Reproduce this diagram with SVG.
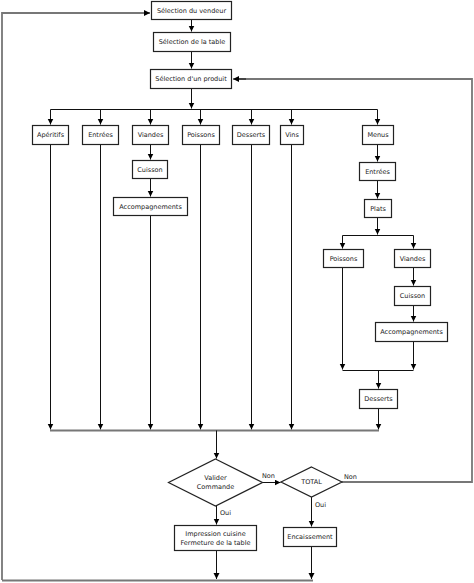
<svg xmlns="http://www.w3.org/2000/svg" width="474" height="583" viewBox="0 0 474 583">
<defs>
<marker id="ah" markerUnits="userSpaceOnUse" markerWidth="7" markerHeight="7" refX="6" refY="3" orient="auto"><path d="M0,0 L6,3 L0,6 z" fill="#000"/></marker>
<style>
.box{fill:#fff;stroke:#222;stroke-width:1.2}
.t{font-family:"DejaVu Sans",sans-serif;font-size:6.5px;fill:#222;text-anchor:middle;dominant-baseline:central}
.l{font-family:"DejaVu Sans",sans-serif;font-size:6.5px;fill:#222}
.c{fill:none;stroke:#111;stroke-width:1}
.g{fill:none;stroke:#777;stroke-width:1.8}
</style>
</defs>
<rect width="474" height="583" fill="#fff"/>
<g id="connectors">
<path class="g" d="M2,580 V13 H150" marker-end="url(#ah)"/>
<path class="c" d="M191.5,19 V31.5" marker-end="url(#ah)"/>
<path class="c" d="M191.5,52 V68.5" marker-end="url(#ah)"/>
<path class="c" d="M191.5,89 V108.5" marker-end="url(#ah)"/>
<path class="c" d="M50.5,109.5 H377.5"/>
<path class="c" d="M50.5,109.5 V124.5" marker-end="url(#ah)"/>
<path class="c" d="M100.5,109.5 V124.5" marker-end="url(#ah)"/>
<path class="c" d="M150.5,109.5 V124.5" marker-end="url(#ah)"/>
<path class="c" d="M200.5,109.5 V124.5" marker-end="url(#ah)"/>
<path class="c" d="M251.5,109.5 V124.5" marker-end="url(#ah)"/>
<path class="c" d="M291.5,109.5 V124.5" marker-end="url(#ah)"/>
<path class="c" d="M377.5,109.5 V124.5" marker-end="url(#ah)"/>
<path class="c" d="M150.5,145 V159.5" marker-end="url(#ah)"/>
<path class="c" d="M150.5,179 V196.5" marker-end="url(#ah)"/>
<path class="c" d="M377.5,145 V161.5" marker-end="url(#ah)"/>
<path class="c" d="M377.5,181 V198.5" marker-end="url(#ah)"/>
<path class="c" d="M377.5,218 V234.5" marker-end="url(#ah)"/>
<path class="c" d="M342.5,235.5 H413.5"/>
<path class="c" d="M342.5,235.5 V248.5" marker-end="url(#ah)"/>
<path class="c" d="M413.5,235.5 V248.5" marker-end="url(#ah)"/>
<path class="c" d="M413.5,268 V285.5" marker-end="url(#ah)"/>
<path class="c" d="M413.5,306 V321.5" marker-end="url(#ah)"/>
<path class="c" d="M342.5,268 V369.5" marker-end="url(#ah)"/>
<path class="c" d="M413.5,342 V369.5" marker-end="url(#ah)"/>
<path class="c" d="M342.5,370.5 H413.5"/>
<path class="c" d="M378.5,370.5 V388.5" marker-end="url(#ah)"/>
<path class="c" d="M50.5,145 V429.5" marker-end="url(#ah)"/>
<path class="c" d="M100.5,145 V429.5" marker-end="url(#ah)"/>
<path class="c" d="M150.5,216 V429.5" marker-end="url(#ah)"/>
<path class="c" d="M200.5,145 V429.5" marker-end="url(#ah)"/>
<path class="c" d="M251.5,145 V429.5" marker-end="url(#ah)"/>
<path class="c" d="M291.5,145 V429.5" marker-end="url(#ah)"/>
<path class="c" d="M378.5,409 V429.5" marker-end="url(#ah)"/>
<path class="g" d="M50,430.5 H379"/>
<path class="c" d="M216.5,430.5 V458.5" marker-end="url(#ah)"/>
<path class="c" d="M262,482.5 H280.5" marker-end="url(#ah)"/>
<path class="g" d="M342,482 H472 V79 H239"/>
<path class="c" d="M246,79 H233" marker-end="url(#ah)"/>
<path class="c" d="M216.5,506 V524.5" marker-end="url(#ah)"/>
<path class="c" d="M311.5,497 V526.5" marker-end="url(#ah)"/>
<path class="c" d="M216.5,551 V579" marker-end="url(#ah)"/>
<path class="c" d="M311.5,547 V579" marker-end="url(#ah)"/>
<path class="g" d="M2,580.5 H313"/>
<text class="l" x="262" y="478">Non</text>
<text class="l" x="344" y="479">Non</text>
<text class="l" x="220" y="515">Oui</text>
<text class="l" x="315" y="507">Oui</text>
</g>
<g id="n-vendeur"><rect class="box" x="151.5" y="1.5" width="80" height="18"/><text class="t" x="191.5" y="10.5">Sélection du vendeur</text></g>
<g id="n-table"><rect class="box" x="153.5" y="32.5" width="77" height="19"/><text class="t" x="192" y="42">Sélection de la table</text></g>
<g id="n-produit"><rect class="box" x="150.5" y="69.5" width="81" height="19"/><text class="t" x="191" y="79">Sélection d'un produit</text></g>
<g id="n-aperitifs"><rect class="box" x="32.5" y="125.5" width="36" height="19"/><text class="t" x="50.5" y="135">Apéritifs</text></g>
<g id="n-entrees"><rect class="box" x="82.5" y="125.5" width="36" height="19"/><text class="t" x="100.5" y="135">Entrées</text></g>
<g id="n-viandes"><rect class="box" x="132.5" y="125.5" width="36" height="19"/><text class="t" x="150.5" y="135">Viandes</text></g>
<g id="n-poissons"><rect class="box" x="182.5" y="125.5" width="37" height="19"/><text class="t" x="201" y="135">Poissons</text></g>
<g id="n-desserts"><rect class="box" x="232.5" y="125.5" width="37" height="19"/><text class="t" x="251" y="135">Desserts</text></g>
<g id="n-vins"><rect class="box" x="280.5" y="125.5" width="23" height="19"/><text class="t" x="292" y="135">Vins</text></g>
<g id="n-menus"><rect class="box" x="362.5" y="125.5" width="31" height="19"/><text class="t" x="378" y="135">Menus</text></g>
<g id="n-cuisson"><rect class="box" x="132.5" y="160.5" width="35" height="18"/><text class="t" x="150" y="169.5">Cuisson</text></g>
<g id="n-accomp"><rect class="box" x="113.5" y="197.5" width="74" height="18"/><text class="t" x="150.5" y="206.5">Accompagnements</text></g>
<g id="n-m-entrees"><rect class="box" x="359.5" y="162.5" width="36" height="18"/><text class="t" x="377.5" y="171.5">Entrées</text></g>
<g id="n-m-plats"><rect class="box" x="364.5" y="199.5" width="27" height="18"/><text class="t" x="378" y="208.5">Plats</text></g>
<g id="n-m-poissons"><rect class="box" x="323.5" y="249.5" width="40" height="18"/><text class="t" x="343.5" y="258.5">Poissons</text></g>
<g id="n-m-viandes"><rect class="box" x="394.5" y="249.5" width="36" height="18"/><text class="t" x="412.5" y="258.5">Viandes</text></g>
<g id="n-m-cuisson"><rect class="box" x="394.5" y="286.5" width="36" height="19"/><text class="t" x="412.5" y="296">Cuisson</text></g>
<g id="n-m-accomp"><rect class="box" x="375.5" y="322.5" width="72" height="19"/><text class="t" x="411.5" y="332">Accompagnements</text></g>
<g id="n-m-desserts"><rect class="box" x="359.5" y="389.5" width="38" height="19"/><text class="t" x="378.5" y="399">Desserts</text></g>
<g id="n-valider"><polygon class="box" points="215.5,459 262.5,482.5 215.5,506 168.5,482.5"/><text class="t" x="215.5" y="478">Valider</text><text class="t" x="215.5" y="486.5">Commande</text></g>
<g id="n-total"><polygon class="box" points="311.5,467 342,482 311.5,497 281,482"/><text class="t" x="311.5" y="482">TOTAL</text></g>
<g id="n-impression"><rect class="box" x="174.5" y="525.5" width="82" height="25"/><text class="t" x="215.5" y="534">Impression cuisine</text><text class="t" x="215.5" y="543">Fermeture de la table</text></g>
<g id="n-encaissement"><rect class="box" x="283.5" y="527.5" width="53" height="19"/><text class="t" x="310" y="537">Encaissement</text></g>
</svg>
